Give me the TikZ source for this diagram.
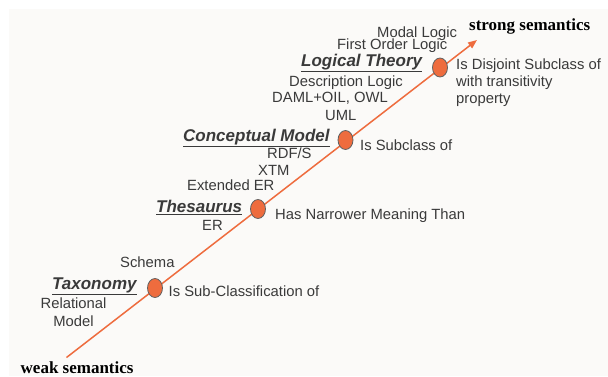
\documentclass[tikz,border=0pt]{standalone}
\usepackage{fontspec}
\setmainfont{Liberation Sans}
\newfontfamily\timesfont{Liberation Serif}
\usetikzlibrary{arrows.meta,positioning,shapes.geometric}
\definecolor{sorange}{HTML}{EE6C3E}
\definecolor{sink}{HTML}{3A3A3A}
\definecolor{spaper}{HTML}{FBFAF8}

\begin{document}
\begin{tikzpicture}[x=1pt,y=-1pt,>={Triangle[length=9pt,width=7pt]},
  lbl/.style={text=sink,inner sep=0pt,font=\fontsize{14.8}{17}\selectfont},
  level/.style={text=sink,inner sep=0pt,font=\fontsize{17}{19}\selectfont\bfseries\itshape},
  pole/.style={text=black,inner sep=0pt,font=\fontsize{17}{19}\selectfont\timesfont\bfseries},
  dot/.style={ellipse,draw=sink!80,fill=sorange,line width=0.8pt,
    minimum width=15pt,minimum height=19pt,inner sep=0pt}]
\useasboundingbox (0,0) rectangle (608,376);
\fill[spaper] (9,9) rectangle (608,376);

% ---- the semantics axis ----
\coordinate (weak) at (66.5,357.5);
\coordinate (strong) at (477,40);
\draw[sorange,line width=1.5pt,->] (weak) -- (strong);
\node[pole,anchor=base west] (weaklbl) at (20.5,373) {weak semantics};
\node[pole,anchor=base west] (stronglbl) at (469,30) {strong semantics};

% ---- levels on the axis ----
\node[dot] (taxdot) at (155,288) {};
\node[dot] (thesdot) at (258,209) {};
\node[dot] (concdot) at (345.5,140) {};
\node[dot] (logdot) at (440,67.5) {};

% taxonomy
\node[level,anchor=base west] (tax) at (52,289) {\underline{Taxonomy}};
\node[lbl,anchor=base west] (schema) at (120,267) {Schema};
\node[lbl,anchor=base,align=center,font=\fontsize{14.8}{18}\selectfont] (relmodel) at (73.5,326) {Relational\\Model};
\node[lbl,anchor=base west] (taxrel) at (168.5,296) {Is Sub-Classification of};

% thesaurus
\node[level,anchor=base west] (thes) at (156,212.7) {\underline{Thesaurus}};
\node[lbl,anchor=base west] (er) at (202,230) {ER};
\node[lbl,anchor=base west] (exter) at (187,190) {Extended ER};
\node[lbl,anchor=base west] (thesrel) at (275,219.3) {Has Narrower Meaning Than};

% conceptual model
\node[level,anchor=base west] (conc) at (183,141) {\underline{Conceptual Model}};
\node[lbl,anchor=base west] (xtm) at (258,175) {XTM};
\node[lbl,anchor=base west] (rdfs) at (267,158.7) {RDF/S};
\node[lbl,anchor=base west] (uml) at (325,120) {UML};
\node[lbl,anchor=base west] (concrel) at (360,150.7) {Is Subclass of};

% logical theory
\node[level,anchor=base west] (logth) at (301,66.7) {\underline{Logical Theory}};
\node[lbl,anchor=base west] (daml) at (272,102.7) {DAML+OIL, OWL};
\node[lbl,anchor=base west] (desc) at (289,86) {Description Logic};
\node[lbl,anchor=base west] (fol) at (337,49.3) {First Order Logic};
\node[lbl,anchor=base west] (modal) at (377,37.7) {Modal Logic};
\node[lbl,anchor=base west,align=left] (logrel) at (456,103.3)
  {Is Disjoint Subclass of\\with transitivity\\property};
\end{tikzpicture}
\end{document}
